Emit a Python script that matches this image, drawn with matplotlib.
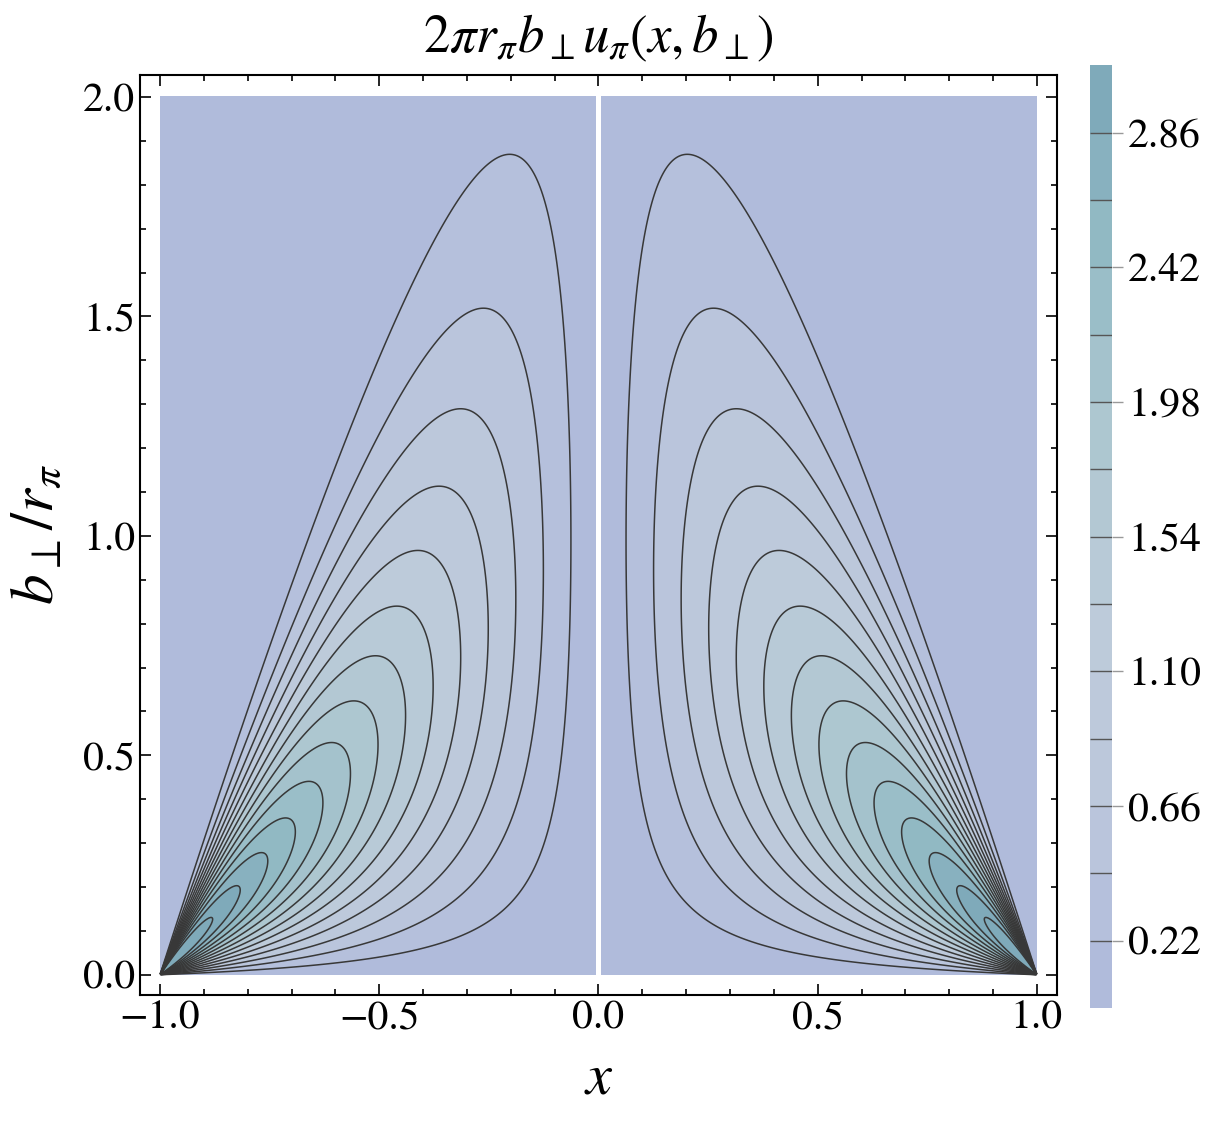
import numpy as np
import matplotlib
matplotlib.use("Agg")
import matplotlib.pyplot as plt
from matplotlib.colors import LinearSegmentedColormap, ListedColormap, BoundaryNorm
from matplotlib.cm import ScalarMappable
from matplotlib.ticker import MultipleLocator

plt.rcParams["mathtext.fontset"] = "stix"
plt.rcParams["font.family"] = ["STIXGeneral", "DejaVu Sans"]

# contour levels and labels
levels = [0.22, 0.44, 0.66, 0.88, 1.10, 1.32, 1.54, 1.76, 1.98, 2.20, 2.42, 2.64, 2.86, 3.08]
cbar_ticks = [0.22, 0.66, 1.10, 1.54, 1.98, 2.42, 2.86]
x_ticks = [-1.0, -0.5, 0.0, 0.5, 1.0]
b_ticks = [0.0, 0.5, 1.0, 1.5, 2.0]

# shape of the density, estimated from where the contours sit in the picture:
# ridge height grows ~ |x|, gaussian in b with width ~ (1-|x|)
peak_value = 3.5       # ridge height as |x| -> 1
ridge_width = 1.055    # b-width of the ridge / (1-|x|)
x_gap = 0.007          # white stripe at x = 0

band_anchor_colors = ["#adb9db", "#bcc7dc", "#bdcbda", "#aec7d0", "#94bbc5", "#7aa6b8"]


def density(x, b):
    ax_ = np.abs(x)
    u = b / (ridge_width * (1 - ax_))
    return peak_value * ax_ * u * np.exp((1 - u ** 2) / 2)


cmap = LinearSegmentedColormap.from_list("bands", band_anchor_colors)
vmax = levels[-1]
bounds = [0.0] + levels
mids = [(lo + hi) / 2 for lo, hi in zip(bounds[:-1], bounds[1:])]
band_colors = [cmap(m / vmax) for m in mids]

fig = plt.figure(figsize=(12.06, 11.25), dpi=100)
ax = fig.add_axes([0.116, 0.1156, 0.7605, 0.8177])

xs = np.linspace(x_gap, 0.9995, 900)
bs = np.linspace(0, 2, 700)
for side in (1, -1):
    X, B = np.meshgrid(side * xs, bs)
    F = density(X, B)
    ax.contourf(X, B, F, levels=bounds + [50.0], colors=band_colors + [band_colors[-1]])
    ax.contour(X, B, F, levels=levels, colors="#383838", linewidths=1.1)

ax.set_xlim(-1.046, 1.046)
ax.set_ylim(-0.046, 2.05)
ax.set_xticks(x_ticks)
ax.set_yticks(b_ticks)
ax.set_xticklabels([f"{t:.1f}".replace("-", "\u2212") for t in x_ticks])
ax.set_yticklabels([f"{t:.1f}" for t in b_ticks])
ax.xaxis.set_minor_locator(MultipleLocator(0.1))
ax.yaxis.set_minor_locator(MultipleLocator(0.1))
ax.tick_params(which="both", direction="in", top=True, right=True, labelsize=30, width=1.2)
ax.tick_params(which="major", length=8)
ax.tick_params(which="minor", length=4)
for s in ax.spines.values():
    s.set_linewidth(1.5)

ax.set_xlabel("$x$", fontsize=42, labelpad=12)
ax.set_ylabel(r"$b_\perp/r_\pi$", fontsize=44, labelpad=12)
ax.set_title(r"$2\pi r_\pi b_\perp u_\pi(x,b_\perp)$", fontsize=38, pad=16)

cax = fig.add_axes([0.904, 0.104, 0.018, 0.838])
sm = ScalarMappable(norm=BoundaryNorm(bounds, len(band_colors)), cmap=ListedColormap(band_colors))
cbar = fig.colorbar(sm, cax=cax, boundaries=bounds, spacing="proportional")
cbar.outline.set_visible(False)
cbar.add_lines(levels[:-1], ["#555555"] * (len(levels) - 1), [1.0] * (len(levels) - 1))
cbar.set_ticks(cbar_ticks, labels=[f"{t:.2f}" for t in cbar_ticks])
cbar.ax.tick_params(direction="out", length=8, width=1, color="#999999", labelsize=30)
cbar.ax.minorticks_off()

fig.savefig("out.png", dpi=100)
